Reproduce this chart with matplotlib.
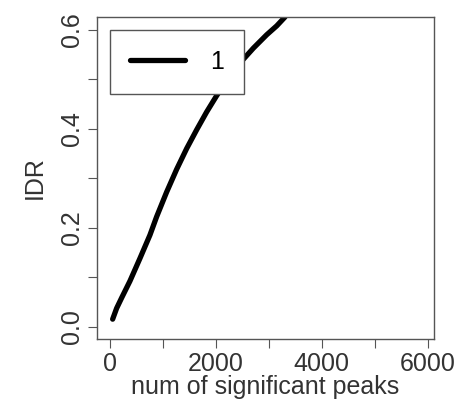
import matplotlib.pyplot as plt
import matplotlib as mpl

mpl.rcParams["font.family"] = ["Liberation Sans", "DejaVu Sans"]
fontsize = 18

# curve
num_peaks = [57, 132, 226, 383, 572, 760, 886, 1075, 1264, 1453, 1642,
             1830, 2019, 2239, 2459, 2711, 2962, 3151, 3308]
idr = [0.015, 0.037, 0.058, 0.092, 0.138, 0.185, 0.222, 0.272, 0.318,
       0.360, 0.398, 0.434, 0.467, 0.502, 0.533, 0.563, 0.590, 0.608, 0.626]

x_ticks = [0, 1000, 2000, 3000, 4000, 5000, 6000]
x_labels = ["0", "", "2000", "", "4000", "", "6000"]
y_ticks = [0.0, 0.1, 0.2, 0.3, 0.4, 0.5, 0.6]
y_labels = ["0.0", "", "0.2", "", "0.4", "", "0.6"]

fig = plt.figure(figsize=(4.75, 4.04), dpi=100)
ax = fig.add_axes([0.204, 0.161, 0.710, 0.797])

ax.plot(num_peaks, idr, color="black", linewidth=3.8, solid_capstyle="round", label="1")

ax.set_xlim(-240, 6120)
ax.set_ylim(-0.025, 0.626)
ax.set_xticks(x_ticks, x_labels, fontsize=fontsize, color="#333333")
ax.set_yticks(y_ticks, y_labels, fontsize=fontsize, color="#333333", rotation=90, va="center")
ax.tick_params(direction="out", length=6.5, color="#555555", pad=3)
for s in ax.spines.values():
    s.set_color("#555555")
    s.set_linewidth(1.0)

ax.set_xlabel("num of significant peaks", fontsize=fontsize, color="#333333", labelpad=-1)
ax.set_ylabel("IDR", fontsize=fontsize, color="#333333", labelpad=9)

leg = ax.legend(
    loc="upper left",
    bbox_to_anchor=(0.038, 0.96),
    borderaxespad=0,
    fancybox=False,
    edgecolor="#555555",
    fontsize=fontsize,
    handlelength=2.2,
    handletextpad=1.0,
    borderpad=0.8,
    framealpha=1,
)
leg.get_frame().set_linewidth(1.0)

plt.savefig("out.png", dpi=100)
plt.close()
